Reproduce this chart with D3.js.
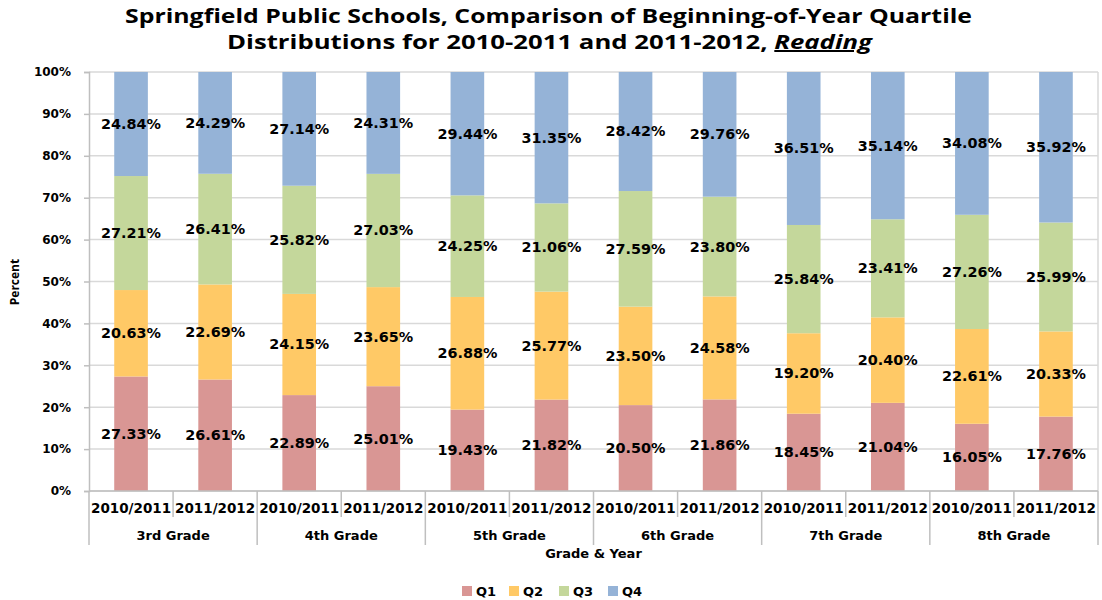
<!DOCTYPE html>
<html><head><meta charset="utf-8">
<script src="https://cdn.jsdelivr.net/npm/d3@7"></script>
<style>
body{margin:0;background:#fff;}
svg{display:block;}
</style></head>
<body>
<svg id="chart" width="1102" height="600"></svg>
<script>
const grades = ["3rd Grade","4th Grade","5th Grade","6th Grade","7th Grade","8th Grade"];
const years = ["2010/2011","2011/2012"];
const seriesNames = ["Q1","Q2","Q3","Q4"];
const q1 = [27.33,26.61,22.89,25.01,19.43,21.82,20.50,21.86,18.45,21.04,16.05,17.76];
const q2 = [20.63,22.69,24.15,23.65,26.88,25.77,23.50,24.58,19.20,20.40,22.61,20.33];
const q3 = [27.21,26.41,25.82,27.03,24.25,21.06,27.59,23.80,25.84,23.41,27.26,25.99];
const q4 = [24.84,24.29,27.14,24.31,29.44,31.35,28.42,29.76,36.51,35.14,34.08,35.92];
const yTicks = [0,10,20,30,40,50,60,70,80,90,100];
const colors = ["#D99694","#FFC966","#C4D79B","#95B3D7"];

const svg = d3.select("#chart");
const m = {left:89, right:1098, top:72, bottom:491};
const F = "'DejaVu Sans', Verdana, sans-serif";

const cats = [];
grades.forEach(g => years.forEach(y => cats.push(g + "|" + y)));
const rows = cats.map((c,i) => ({cat:c, Q1:q1[i], Q2:q2[i], Q3:q3[i], Q4:q4[i]}));

const x = d3.scaleBand().domain(cats).range([m.left, m.right]).paddingInner(0.6).paddingOuter(0.3);
const y = d3.scaleLinear().domain([0,100]).range([m.bottom, m.top]);

// gridlines
svg.append("g").selectAll("line").data(yTicks).join("line")
  .attr("x1", m.left).attr("x2", m.right)
  .attr("y1", d => y(d)).attr("y2", d => y(d))
  .attr("stroke", "#D9D9D9").attr("stroke-width", 1.5);
// right border
svg.append("line").attr("x1", m.right).attr("x2", m.right).attr("y1", m.top).attr("y2", m.bottom)
  .attr("stroke","#D9D9D9").attr("stroke-width",1.5);

// y axis
const yAxis = d3.axisLeft(y).tickValues(yTicks).tickFormat(d => d + "%").tickSize(5);
const yg = svg.append("g").attr("transform", `translate(${m.left},0)`).call(yAxis);
yg.select(".domain").attr("stroke","#BFBFBF").attr("stroke-width",1.5);
yg.selectAll(".tick line").attr("stroke","#BFBFBF").attr("stroke-width",1.5);
yg.selectAll(".tick text").attr("x",-18).attr("font-family",F).attr("font-weight","bold").attr("font-size","12px").attr("fill","#000");

// stacked bars
const stack = d3.stack().keys(seriesNames)(rows);
const layers = svg.append("g").selectAll("g").data(stack).join("g")
  .attr("fill", (d,i) => colors[i]);
layers.selectAll("rect").data(d => d).join("rect")
  .attr("x", d => x(d.data.cat))
  .attr("width", x.bandwidth())
  .attr("y", d => y(d[1]))
  .attr("height", d => y(d[0]) - y(d[1]));

// data labels
const lbl = svg.append("g");
stack.forEach(layer => {
  lbl.selectAll(null).data(layer).join("text")
    .attr("x", d => x(d.data.cat) + x.bandwidth()/2)
    .attr("y", d => y((d[0]+d[1])/2) + 5)
    .attr("text-anchor","middle")
    .attr("font-family",F).attr("font-weight","bold").attr("font-size","14.4px").attr("fill","#000")
    .text(d => (d[1]-d[0]).toFixed(2) + "%");
});

// x axis: baseline
svg.append("line").attr("x1",m.left).attr("x2",m.right).attr("y1",m.bottom).attr("y2",m.bottom)
  .attr("stroke","#BFBFBF").attr("stroke-width",1.5);
const bandStart = i => m.left + i*(m.right-m.left)/cats.length;
const sepG = svg.append("g").attr("stroke","#BFBFBF").attr("stroke-width",1.5);
d3.range(cats.length+1).forEach(i => {
  const xx = bandStart(i);
  const isGroup = i % 2 === 0;
  sepG.append("line").attr("x1",xx).attr("x2",xx).attr("y1",m.bottom).attr("y2", isGroup ? 545 : 517);
});
// year labels
svg.append("g").selectAll("text").data(cats).join("text")
  .attr("x", d => x(d) + x.bandwidth()/2)
  .attr("y", 513)
  .attr("text-anchor","middle")
  .attr("font-family",F).attr("font-weight","bold").attr("font-size","13.5px").attr("fill","#000")
  .text(d => d.split("|")[1]);
// grade labels
svg.append("g").selectAll("text").data(grades).join("text")
  .attr("x", (d,i) => (bandStart(i*2) + bandStart(i*2+2))/2)
  .attr("y", 540)
  .attr("text-anchor","middle")
  .attr("font-family",F).attr("font-weight","bold").attr("font-size","13px").attr("fill","#000")
  .text(d => d);

// axis titles
svg.append("text").attr("x",(m.left+m.right)/2).attr("y",558).attr("text-anchor","middle")
  .attr("font-family",F).attr("font-weight","bold").attr("font-size","13px").text("Grade & Year");
svg.append("text").attr("transform","translate(19,282) rotate(-90)").attr("text-anchor","middle")
  .attr("font-family","'Open Sans', sans-serif").attr("font-weight","bold").attr("font-size","12px").text("Percent");

// title
const TF = "'Open Sans', sans-serif";
svg.append("text").attr("x",125).attr("y",23)
  .attr("font-family",TF).attr("font-weight","bold").attr("font-size","20px").attr("fill","#000")
  .attr("textLength",847).attr("lengthAdjust","spacingAndGlyphs")
  .text("Springfield Public Schools, Comparison of Beginning-of-Year Quartile");
const t2 = svg.append("text").attr("x",227).attr("y",49)
  .attr("font-family",TF).attr("font-weight","bold").attr("font-size","20px").attr("fill","#000")
  .attr("textLength",645).attr("lengthAdjust","spacingAndGlyphs");
t2.append("tspan").text("Distributions for 2010-2011 and 2011-2012, ");
t2.append("tspan").attr("font-style","italic").attr("text-decoration","underline").text("Reading");

// legend
const legX = [462, 509, 559, 608];
const leg = svg.append("g").selectAll("g").data(seriesNames).join("g")
  .attr("transform",(d,i)=>`translate(${legX[i]},586)`);
leg.append("rect").attr("width",10).attr("height",10).attr("fill",(d,i)=>colors[i]);
leg.append("text").attr("x",14).attr("y",10).attr("font-family",F).attr("font-weight","bold").attr("font-size","13px").text(d=>d);
</script>
</body></html>
